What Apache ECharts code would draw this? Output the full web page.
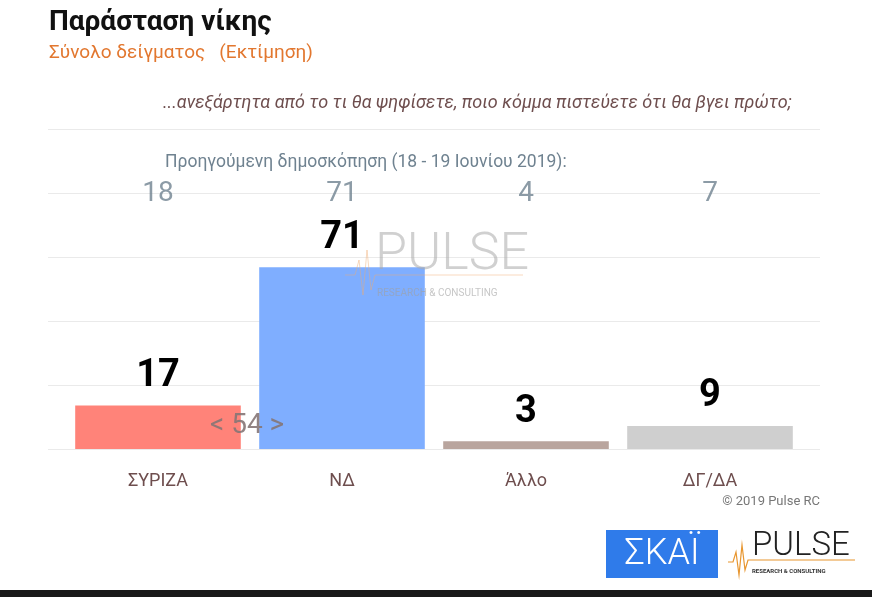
<!DOCTYPE html>
<html><head><meta charset="utf-8">
<script src="https://cdn.jsdelivr.net/npm/echarts@6/dist/echarts.min.js"></script>
<style>html,body{margin:0;padding:0;background:#fff}#c{width:872px;height:597px}</style>
</head><body><div id="c"></div>
<script>
const categories = ['ΣΥΡΙΖΑ', 'ΝΔ', 'Άλλο', 'ΔΓ/ΔΑ'];
const values = [17, 71, 3, 9];
const previousValues = [18, 71, 4, 7];
const barColors = ['#FF8379', '#7FAEFF', '#B9A59E', '#CFCFCF'];
const prevRowLevel = 100;
const gapLabel = '< 54 >';

const chart = echarts.init(document.getElementById('c'), null, {renderer: 'canvas'});
chart.setOption({
  animation: false,
  backgroundColor: '#fff',
  grid: [
    {left: 66, right: 70, top: 129, bottom: 148},
    {left: 48, right: 52, top: 129, bottom: 148}
  ],
  xAxis: [{
    type: 'category', data: categories, gridIndex: 0,
    axisLine: {show: false}, axisTick: {show: false},
    axisLabel: {color: '#6E4E4E', fontSize: 18, fontFamily: 'Roboto', margin: 23}
  }, {
    type: 'value', gridIndex: 1, show: false, min: 0, max: 1
  }],
  yAxis: [{
    type: 'value', min: 0, max: 125, interval: 25, gridIndex: 0,
    axisLabel: {show: false}, axisLine: {show: false}, axisTick: {show: false},
    splitLine: {show: false}
  }, {
    type: 'value', min: 0, max: 125, interval: 25, gridIndex: 1,
    axisLabel: {show: false}, axisLine: {show: false}, axisTick: {show: false},
    splitLine: {lineStyle: {color: '#EAEAEA', width: 1}}
  }],
  series: [{
    type: 'bar', barWidth: '90%', xAxisIndex: 0, yAxisIndex: 0,
    data: values.map((v, i) => ({value: v, itemStyle: {color: barColors[i]}})),
    label: {show: true, position: 'top', distance: 10, color: '#000', fontSize: 38, fontWeight: 'bold', fontFamily: 'Roboto'}
  }, {
    type: 'scatter', symbolSize: 0, xAxisIndex: 0, yAxisIndex: 0,
    data: previousValues.map(v => ({value: prevRowLevel, label: {formatter: String(v)}})),
    label: {show: true, position: 'inside', offset: [0, 1], color: '#6F8290', fontSize: 28, fontFamily: 'Roboto'},
    silent: true, z: 5
  }],
  graphic: [
    {type: 'text', left: 49, top: 9, style: {text: 'Παράσταση νίκης', font: 'bold 28px Roboto', fill: '#111'}},
    {type: 'text', left: 49, top: 44, style: {text: 'Σύνολο δείγματος   (Εκτίμηση)', font: '19px Roboto', fill: '#E2772F'}},
    {type: 'text', left: 163, top: 94, style: {text: '...ανεξάρτητα από το τι θα ψηφίσετε, ποιο κόμμα πιστεύετε ότι θα βγει πρώτο;', font: 'italic 18px Roboto', fill: '#6E4E4E'}},
    {type: 'text', left: 165, top: 154, style: {text: 'Προηγούμενη δημοσκόπηση (18 - 19 Ιουνίου 2019):', font: '17.5px Roboto', fill: '#6F8290'}},
    {type: 'text', left: 210, top: 412, z: 10, style: {text: gapLabel, font: '28px Roboto', fill: '#857575', opacity: 0.9}},
    {type: 'text', right: 52, top: 495, style: {text: '© 2019 Pulse RC', font: '13px Roboto', fill: '#777'}},
    // watermark
    {type: 'text', left: 375, top: 230, z: 100, silent: true, style: {text: 'PULSE', font: '300 52px Roboto', fill: 'rgba(170,170,170,0.55)', letterSpacing: 6}},
    {type: 'text', left: 377, top: 288, z: 100, silent: true, style: {text: 'RESEARCH & CONSULTING', font: '10px Roboto', fill: 'rgba(160,160,160,0.6)', letterSpacing: 3.6}},
    {type: 'polyline', z: 100, silent: true, shape: {points: [[345,275],[355,275],[359,260],[363,295],[367,250],[371,290],[375,275],[523,275]]}, style: {stroke: 'rgba(240,170,110,0.45)', lineWidth: 1, fill: 'none'}},
    // SKAI logo
    {type: 'rect', shape: {x: 606, y: 530, width: 112, height: 48}, style: {fill: '#2F7BEA'}},
    {type: 'text', x: 662, y: 555, style: {text: 'ΣΚΑΪ', font: '300 36px Roboto', fill: '#fff', align: 'center', verticalAlign: 'middle', letterSpacing: 4}},
    // PULSE logo
    {type: 'text', left: 752, top: 530, style: {text: 'PULSE', font: '300 33px Roboto', fill: '#222', letterSpacing: 3}},
    {type: 'text', left: 752, top: 568, style: {text: 'RESEARCH & CONSULTING', font: 'bold 6px Roboto', fill: '#333', letterSpacing: 1.4}},
    {type: 'polyline', shape: {points: [[728,562],[733,562],[736,552],[739,575],[742,545],[745,570],[748,560],[855,560]]}, style: {stroke: '#E8962F', lineWidth: 1.2, fill: 'none'}},
    // bottom bar
    {type: 'rect', shape: {x: 0, y: 590, width: 872, height: 7}, style: {fill: '#1a1a1a'}}
  ]
});
</script></body></html>
